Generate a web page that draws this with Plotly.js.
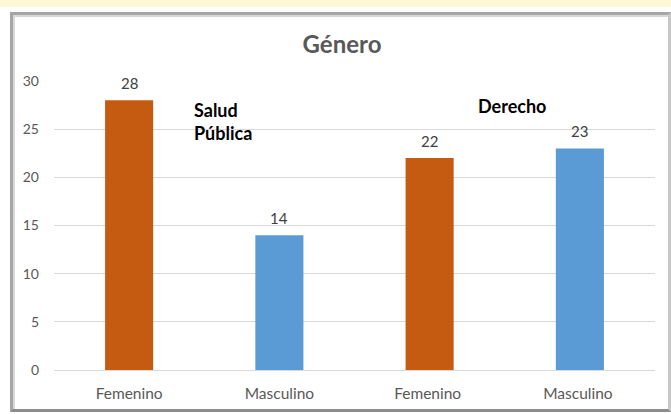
<!DOCTYPE html>
<html>
<head>
<meta charset="utf-8">
<script src="https://cdn.plot.ly/plotly-3.0.1.min.js"></script>
<style>
  html, body { margin: 0; padding: 0; background: #ffffff; }
  #wrap { position: relative; width: 671px; height: 414px; overflow: hidden; }
  #strip { position: absolute; left: 0; top: 0; width: 671px; height: 7px; background: #fdf8d6; }
  #frame { position: absolute; left: 10px; top: 12px; width: 655px; height: 394px;
           border: 3px solid #a6a6a6; border-right-color: #c8c8c8; border-bottom-color: #8c8c8c;
           box-shadow: inset 2px 2px 0 #d8d8d8; }
  #chart { position: absolute; left: 0; top: 0; width: 671px; height: 414px; }
</style>
</head>
<body>
<div id="wrap">
  <div id="strip"></div>
  <div id="frame"></div>
  <div id="chart"></div>
</div>
<script>
const categories = ["Femenino", "Masculino", "Femenino ", "Masculino "];
const values = [28, 14, 22, 23];
const barColors = ["#C55A11", "#5B9BD5", "#C55A11", "#5B9BD5"];
const yTicks = [0, 5, 10, 15, 20, 25, 30];
const titleText = "Género";
const groupLabels = ["Salud<br>Pública", "Derecho"];

const FONT = "Lato, Carlito, Calibri, sans-serif";

const trace = {
  type: "bar",
  x: categories,
  y: values,
  marker: { color: barColors },
  cliponaxis: false,
  hoverinfo: "none"
};

const valueLabels = categories.map((c, i) => ({
  x: c, y: values[i], xref: "x", yref: "y",
  text: String(values[i]), showarrow: false,
  xanchor: "center", yanchor: "middle", yshift: 17,
  font: { family: FONT, size: 15, color: "#404040" }
}));

const layout = {
  width: 671, height: 414,
  margin: { l: 54, r: 16, t: 81, b: 44 },
  paper_bgcolor: "rgba(0,0,0,0)",
  plot_bgcolor: "rgba(0,0,0,0)",
  bargap: 0.68,
  showlegend: false,
  font: { family: FONT, color: "#595959", size: 14 },
  title: {
    text: "<b>" + titleText + "</b>",
    font: { family: FONT, size: 24, color: "#595959" },
    x: 342 / 671, xanchor: "center",
    y: 1 - 45 / 414, yanchor: "middle"
  },
  xaxis: {
    type: "category",
    showgrid: false, showline: false, zeroline: false,
    ticks: "", ticklabelstandoff: 12,
    tickfont: { family: FONT, size: 15.5, color: "#595959" }
  },
  yaxis: {
    range: [0, 30],
    tickvals: yTicks,
    showgrid: true, gridcolor: "#d9d9d9", gridwidth: 1,
    zeroline: true, zerolinecolor: "#d9d9d9", zerolinewidth: 1,
    showline: false, ticks: "", ticklabelstandoff: 14,
    tickfont: { family: FONT, size: 14, color: "#595959" }
  },
  annotations: valueLabels.concat([
    { text: "<b>" + groupLabels[0] + "</b>", xref: "paper", yref: "paper",
      x: (192 - 54) / 601, y: (370 - 122) / 289, xanchor: "left", yanchor: "middle",
      align: "left", showarrow: false,
      font: { family: FONT, size: 18, color: "#000000" } },
    { text: "<b>" + groupLabels[1] + "</b>", xref: "paper", yref: "paper",
      x: (476 - 54) / 601, y: (370 - 106) / 289, xanchor: "left", yanchor: "middle",
      align: "left", showarrow: false,
      font: { family: FONT, size: 18, color: "#000000" } }
  ])
};

Plotly.newPlot("chart", [trace], layout, { staticPlot: true, displayModeBar: false });
</script>
</body>
</html>
